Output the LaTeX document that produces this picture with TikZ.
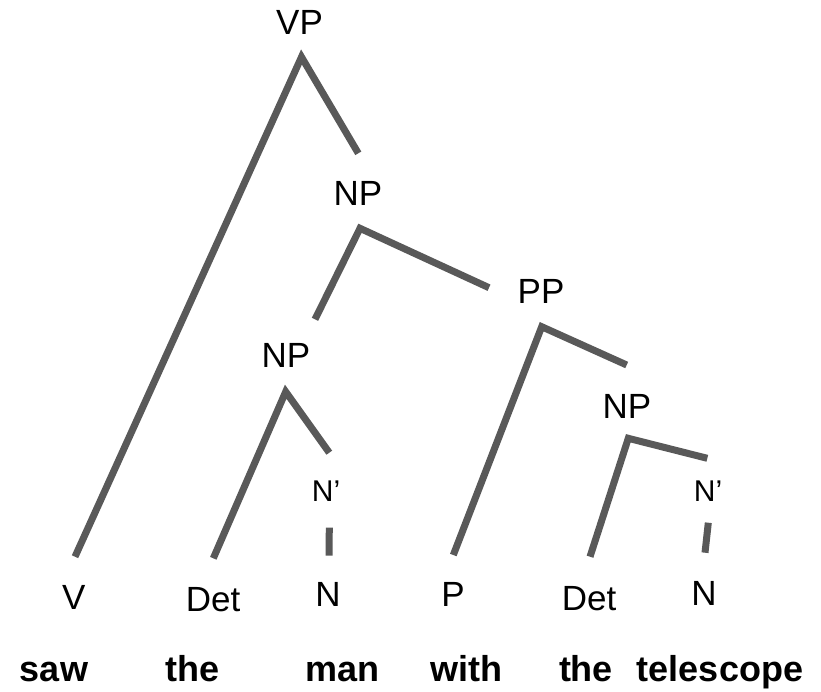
\documentclass[tikz,border=0pt]{standalone}
\usepackage{fontspec}
\setmainfont{Liberation Sans}
\begin{document}
\begin{tikzpicture}[x=1pt,y=-1pt,
  cat/.style={inner sep=0pt,anchor=base,font=\fontsize{35}{35}\selectfont},
  bar/.style={inner sep=0pt,anchor=base,font=\fontsize{30}{30}\selectfont},
  word/.style={inner sep=0pt,anchor=base,font=\fontsize{36}{36}\selectfont\bfseries},
  branch/.style={draw=branchgray,line width=7pt,line cap=butt,line join=miter}]
\definecolor{branchgray}{HTML}{595959}
\useasboundingbox (0,0) rectangle (821,691);

% category labels
\node[cat] (vp)  at (299.5,34.3)  {VP};
\node[cat] (np1) at (358,205)     {NP};
\node[cat] (pp)  at (541,303.3)   {PP};
\node[cat] (np2) at (286,367.3)   {NP};
\node[cat] (np3) at (627,418.3)   {NP};
\node[bar] (nb1) at (326,501.7)   {N’};
\node[bar] (nb2) at (708,501.7)   {N’};
\node[cat] (v)    at (73.7,609.3) {V};
\node[cat] (det1) at (213,611.7)  {Det};
\node[cat] (n1)   at (328,606.7)  {N};
\node[cat] (p)    at (453,606.7)  {P};
\node[cat] (det2) at (589,610)    {Det};
\node[cat] (n2)   at (704,605)    {N};

% words
\node[word] (w1) at (54,681.7)    {saw};
\node[word] (w2) at (192.5,681.7) {the};
\node[word] (w3) at (342.5,681.7) {man};
\node[word] (w4) at (466.7,681.7) {with};
\node[word] (w5) at (586,681.7)   {the};
\node[word] (w6) at (720,681.7)   {telescope};

% branch end points
\coordinate (vpTop)   at (301.5,57);
\coordinate (vpL)     at (75,556.7);
\coordinate (vpR)     at (358.3,153.3);
\coordinate (np1Top)  at (360,228.3);
\coordinate (np1L)    at (315,319.3);
\coordinate (np1R)    at (489,287.7);
\coordinate (ppTop)   at (541.7,326.7);
\coordinate (ppL)     at (453.3,555);
\coordinate (ppR)     at (626.7,365);
\coordinate (np2Top)  at (285.7,391.7);
\coordinate (np2L)    at (213.3,558.3);
\coordinate (np2R)    at (329.3,452.7);
\coordinate (np3Top)  at (628.3,438.3);
\coordinate (np3L)    at (590,556.7);
\coordinate (np3R)    at (707.3,458.3);
\coordinate (nb1Top)  at (329.3,527.7);
\coordinate (nb1Bot)  at (329,555.7);
\coordinate (nb2Top)  at (708.3,522.7);
\coordinate (nb2Bot)  at (705,552.7);

% branches
\draw[branch] (vpL) -- (vpTop) -- (vpR);
\draw[branch] (np1L) -- (np1Top) -- (np1R);
\draw[branch] (ppL) -- (ppTop) -- (ppR);
\draw[branch] (np2L) -- (np2Top) -- (np2R);
\draw[branch] (np3L) -- (np3Top) -- (np3R);
\draw[branch] (nb1Top) -- (nb1Bot);
\draw[branch] (nb2Top) -- (nb2Bot);
\end{tikzpicture}
\end{document}
